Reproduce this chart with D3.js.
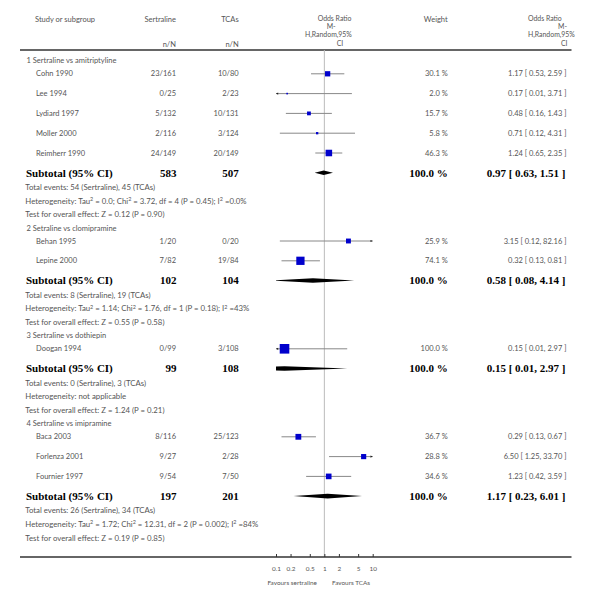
<!DOCTYPE html>
<html><head><meta charset="utf-8">
<script src="https://cdn.jsdelivr.net/npm/d3@7"></script>
<style>
html,body{margin:0;padding:0;background:#fff;}
svg text{font-family:Lato,"Open Sans",sans-serif;}
svg text.serif{font-family:"Liberation Serif","Times New Roman",serif;}
</style></head>
<body><svg id="c" width="594" height="599"></svg>
<script>
// ---------------- DATA ----------------
const groupTitles = ["1 Sertraline vs amitriptyline","2 Setraline vs clomipramine","3 Sertraline vs dothiepin","4 Sertraline vs imipramine"];
const studyGroup  = [0,0,0,0,0,1,1,2,3,3,3];
const studyNames  = ["Cohn 1990","Lee 1994","Lydiard 1997","Moller 2000","Reimherr 1990","Behan 1995","Lepine 2000","Doogan 1994","Baca 2003","Forlenza 2001","Fournier 1997"];
const sertralineNN= ["23/161","0/25","5/132","2/116","24/149","1/20","7/82","0/99","8/116","9/27","9/54"];
const tcaNN       = ["10/80","2/23","10/131","3/124","20/149","0/20","19/84","3/108","25/123","2/28","7/50"];
const weights     = [30.1,2.0,15.7,5.8,46.3,25.9,74.1,100.0,36.7,28.8,34.6];
const oddsRatio   = [1.17,0.17,0.48,0.71,1.24,3.15,0.32,0.15,0.29,6.50,1.23];
const ciLow       = [0.53,0.01,0.16,0.12,0.65,0.12,0.13,0.01,0.13,1.25,0.42];
const ciHigh      = [2.59,3.71,1.43,4.31,2.35,82.16,0.81,2.97,0.67,33.70,3.59];
const subTotalSert= [583,102,99,197];
const subTotalTca = [507,104,108,201];
const subOR       = [0.97,0.58,0.15,1.17];
const subLow      = [0.63,0.08,0.01,0.23];
const subHigh     = [1.51,4.14,2.97,6.01];
const totalEvents = ["Total events: 54 (Sertraline), 45 (TCAs)","Total events: 8 (Sertraline), 19 (TCAs)","Total events: 0 (Sertraline), 3 (TCAs)","Total events: 26 (Sertraline), 34 (TCAs)"];
const heterogeneity = [
  ["Tau","2"," = 0.0; Chi","2"," = 3.72, df = 4 (P = 0.45); I","2"," =0.0%"],
  ["Tau","2"," = 1.14; Chi","2"," = 1.76, df = 1 (P = 0.18); I","2"," =43%"],
  null,
  ["Tau","2"," = 1.72; Chi","2"," = 12.31, df = 2 (P = 0.002); I","2"," =84%"]
];
const heterogeneityPlain = "Heterogeneity: not applicable";
const overallTest = ["Test for overall effect: Z = 0.12 (P = 0.90)","Test for overall effect: Z = 0.55 (P = 0.58)","Test for overall effect: Z = 1.24 (P = 0.21)","Test for overall effect: Z = 0.19 (P = 0.85)"];
const tickValues  = [0.1,0.2,0.5,1,2,5,10];
const tickLabels  = ["0.1","0.2","0.5","1","2","5","10"];
const favoursLeft = "Favours sertraline";
const favoursRight= "Favours TCAs";

// ---------------- LAYOUT ----------------
const svg = d3.select("#c");
const gap = {study:19.8, studyAfterTitle:13.1, sub:19.7, total:14.5, text:13.7, titleAfterTest:13.3};
const rows = [];
let y = 60.7;
groupTitles.forEach((gt, g) => {
  if (g > 0) y += gap.titleAfterTest;
  rows.push({type:"title", g, y});
  studyGroup.forEach((sg, i) => {
    if (sg !== g) return;
    const prev = rows[rows.length-1];
    y += prev.type === "title" ? gap.studyAfterTitle : gap.study;
    rows.push({type:"study", i, y});
  });
  y += gap.sub;   rows.push({type:"sub", g, y});
  y += gap.total; rows.push({type:"total", g, y});
  y += gap.text;  rows.push({type:"het", g, y});
  y += gap.text;  rows.push({type:"test", g, y});
});

const x = d3.scaleLog().domain([0.1, 10]).range([276, 372.7]);
const sq = d3.scaleSqrt().domain([0, 100]).range([0, 9.6]);
const gray = "#555";
const fs = 7.5;
const fsSum = 7.8;

svg.append("defs").append("clipPath").attr("id","clip")
  .append("rect").attr("x", x.range()[0]).attr("y", 40).attr("width", x.range()[1]-x.range()[0]).attr("height", 530);

// header
const hfs = 6.9;
const hdr = svg.append("g").attr("fill", gray).attr("font-size", hfs);
hdr.append("text").attr("x",35).attr("y",21.5).attr("font-size",fs).text("Study or subgroup");
hdr.append("text").attr("x",176).attr("y",21.5).attr("font-size",fs).attr("text-anchor","end").text("Sertraline");
hdr.append("text").attr("x",238.7).attr("y",21.5).attr("font-size",fs).attr("text-anchor","end").text("TCAs");
hdr.append("text").attr("x",176).attr("y",46.5).attr("font-size",fs).attr("text-anchor","end").text("n/N");
hdr.append("text").attr("x",238.7).attr("y",46.5).attr("font-size",fs).attr("text-anchor","end").text("n/N");
hdr.append("text").attr("x",447.7).attr("y",21.5).attr("font-size",fs).attr("text-anchor","end").text("Weight");
[["Odds Ratio",317.7,21],["M-",326.7,29.2],["H,Random,95%",305,37.4],["CI",336.7,45.6]].forEach(d=>
  hdr.append("text").attr("x",d[1]).attr("y",d[2]).text(d[0]));
[["Odds Ratio",528,21],["M-",558,29.2],["H,Random,95%",528,37.4],["CI",561,45.6]].forEach(d=>
  hdr.append("text").attr("x",d[1]).attr("y",d[2]).text(d[0]));

// separators
svg.append("line").attr("x1",20).attr("x2",571.5).attr("y1",50).attr("y2",50).attr("stroke","#333").attr("stroke-width",1.6);
svg.append("line").attr("x1",x(1)).attr("x2",x(1)).attr("y1",50).attr("y2",557).attr("stroke","#bbb").attr("stroke-width",1);

const fmt = d3.format(".2f");
const ciText = (o,l,h) => `${fmt(o)} [ ${fmt(l)}, ${fmt(h)} ]`;
const plot = svg.append("g");

function arrow(g, xEnd, yy, dir) {
  g.append("path").attr("d", `M${xEnd},${yy} l${-dir*2.2},-1.1 l0,2.2 z`).attr("fill","#222");
}

rows.forEach(r => {
  const yy = r.y, base = yy + 2.6;
  if (r.type === "title") {
    svg.append("text").attr("x",26.5).attr("y",base).attr("fill",gray).attr("font-size",fs).text(groupTitles[r.g]);
  } else if (r.type === "study") {
    const i = r.i;
    const t = svg.append("g").attr("fill",gray).attr("font-size",fs);
    t.append("text").attr("x",36).attr("y",base).text(studyNames[i]);
    t.append("text").attr("x",176).attr("y",base).attr("text-anchor","end").text(sertralineNN[i]);
    t.append("text").attr("x",238.7).attr("y",base).attr("text-anchor","end").text(tcaNN[i]);
    t.append("text").attr("x",447.7).attr("y",base).attr("text-anchor","end").text(d3.format(".1f")(weights[i])+" %");
    t.append("text").attr("x",566.5).attr("y",base).attr("text-anchor","end").text(ciText(oddsRatio[i],ciLow[i],ciHigh[i]));
    const [d0,d1] = x.domain();
    const lo = Math.max(ciLow[i], d0), hi = Math.min(ciHigh[i], d1);
    plot.append("line").attr("x1",x(lo)).attr("x2",x(hi)).attr("y1",yy).attr("y2",yy).attr("stroke","#888").attr("stroke-width",1);
    if (ciLow[i] < d0) arrow(plot, x(d0), yy, -1);
    if (ciHigh[i] > d1) arrow(plot, x(d1), yy, 1);
    const s = Math.max(sq(weights[i]), 1.6);
    plot.append("rect").attr("x",x(oddsRatio[i])-s/2).attr("y",yy-s/2).attr("width",s).attr("height",s).attr("fill","#0000cc");
  } else if (r.type === "sub") {
    const g = r.g;
    const t = svg.append("g").attr("fill","#000").attr("font-size",11).attr("font-weight","bold");
    const b = yy + 3.8;
    t.append("text").attr("class","serif").attr("x",26).attr("y",b).text("Subtotal (95% CI)");
    t.append("text").attr("class","serif").attr("x",176.5).attr("y",b).attr("text-anchor","end").text(subTotalSert[g]);
    t.append("text").attr("class","serif").attr("x",238.7).attr("y",b).attr("text-anchor","end").text(subTotalTca[g]);
    t.append("text").attr("class","serif").attr("x",447.7).attr("y",b).attr("text-anchor","end").text("100.0 %");
    t.append("text").attr("class","serif").attr("x",565.5).attr("y",b).attr("text-anchor","end").text(ciText(subOR[g],subLow[g],subHigh[g]));
    const h = 2.3;
    plot.append("path").attr("clip-path","url(#clip)")
      .attr("d", `M${x(subLow[g])},${yy} L${x(subOR[g])},${yy-h} L${x(subHigh[g])},${yy} L${x(subOR[g])},${yy+h} Z`)
      .attr("fill","#000");
  } else if (r.type === "total") {
    svg.append("text").attr("x",25.3).attr("y",base).attr("fill",gray).attr("font-size",fsSum).text(totalEvents[r.g]);
  } else if (r.type === "het") {
    const p = heterogeneity[r.g];
    const t = svg.append("text").attr("x",25.3).attr("y",base).attr("fill",gray).attr("font-size",fsSum);
    if (!p) { t.text(heterogeneityPlain); }
    else {
      t.append("tspan").text("Heterogeneity: ");
      p.forEach((seg, k) => {
        if (k % 2 === 1) t.append("tspan").attr("font-size",fsSum*0.7).attr("dy",-2.6).text(seg);
        else {
          const ts = t.append("tspan").text(seg);
          if (k > 0) ts.attr("dy",2.6);
        }
      });
    }
  } else if (r.type === "test") {
    svg.append("text").attr("x",25.3).attr("y",base).attr("fill",gray).attr("font-size",fsSum).text(overallTest[r.g]);
  }
});

// bottom axis
svg.append("line").attr("x1",20).attr("x2",571.5).attr("y1",557).attr("y2",557).attr("stroke","#333").attr("stroke-width",1.6);
const axis = d3.axisBottom(x).tickValues(tickValues).tickFormat((d,i)=>tickLabels[i]).tickSizeInner(-3).tickSizeOuter(0).tickPadding(8);
const ag = svg.append("g").attr("transform","translate(0,557)").call(axis);
ag.select(".domain").remove();
ag.selectAll(".tick line").attr("stroke","#333");
ag.selectAll(".tick text").attr("fill",gray).attr("font-size",6.4).attr("font-family","Lato,'Open Sans',sans-serif").attr("dy","0.32em").attr("y",11.5);
svg.append("text").attr("x",317).attr("y",585).attr("text-anchor","end").attr("fill",gray).attr("font-size",6.4).text(favoursLeft);
svg.append("text").attr("x",332).attr("y",585).attr("fill",gray).attr("font-size",6.4).text(favoursRight);
</script></body></html>
